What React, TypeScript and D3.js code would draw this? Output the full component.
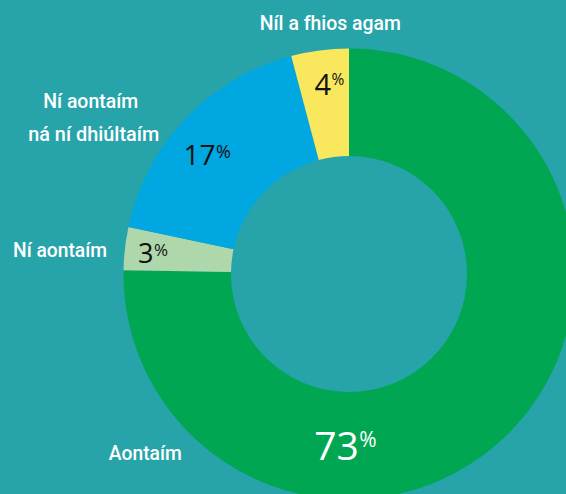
import React from "react";
import * as d3 from "d3";

const categories = ["Aontaím", "Ní aontaím", "Ní aontaím ná ní dhiúltaím", "Níl a fhios agam"];
const values = [73, 3, 17, 4];
const colors = ["#00a651", "#aed8ab", "#00a7e1", "#f9e85e"];
const percentColors = ["#ffffff", "#111111", "#111111", "#111111"];

const W = 566;
const H = 494;
const cx = 349;
const cy = 274;
const outerR = 225.5;
const innerR = 118;

// layout for value labels (polar position from centre)
const valueLabelAngleDeg = [181.2, 276.1, 310, 354.1];
const valueLabelRadius = [172, 197, 185, 190.5];
const valueFontSize = [39, 27, 28, 29];
const pctFontSize = [21, 17, 18, 15.5];

// category label layout
const catLabelLayout = [
  { lines: ["Aontaím"], x: 145.3, y: 460, widths: [73] },
  { lines: ["Ní aontaím"], x: 60, y: 256.7, widths: [94] },
  { lines: ["Ní aontaím", "ná ní dhiúltaím"], x: 92, y: 108, widths: [95, 131], dxs: [-1.3, 1.7] },
  { lines: ["Níl a fhios agam"], x: 330.3, y: 30, widths: [141] },
];

export default function App() {
  const pie = d3.pie<number>().sort(null).value((d) => d);
  const arcs = pie(values);
  const arc = d3.arc<d3.PieArcDatum<number>>().innerRadius(innerR).outerRadius(outerR);

  const labelFont = "Roboto, 'DejaVu Sans', sans-serif";
  const numFont = "'Open Sans', 'Noto Sans', sans-serif";

  return (
    <svg
      width={W}
      height={H}
      style={{ position: "absolute", left: 0, top: 0, display: "block" }}
    >
      <rect x={0} y={0} width={W} height={H} fill="#27a4aa" />
      <g transform={`translate(${cx},${cy})`}>
        {arcs.map((a, i) => (
          <path key={i} d={arc(a) || ""} fill={colors[i]} />
        ))}
        {arcs.map((a, i) => {
          const ang = (valueLabelAngleDeg[i] * Math.PI) / 180;
          const r = valueLabelRadius[i];
          const x = Math.sin(ang) * r;
          const y = -Math.cos(ang) * r;
          const fs = valueFontSize[i];
          const pfs = pctFontSize[i];
          return (
            <text
              key={i}
              x={x}
              y={y + fs * 0.357}
              textAnchor="middle"
              fill={percentColors[i]}
              fontFamily={numFont}
              fontSize={fs}
            >
              {String(values[i])}
              <tspan fontSize={pfs} dx={0.5} dy={-(0.714 * fs - 0.714 * pfs)}>
                %
              </tspan>
            </text>
          );
        })}
      </g>
      {catLabelLayout.map((c, i) =>
        c.lines.map((ln, j) => (
          <text
            key={`${i}-${j}`}
            x={c.x + (c.dxs ? c.dxs[j] : 0)}
            y={c.y + j * 32.7}
            textAnchor="middle"
            fill="#ffffff"
            fontFamily={labelFont}
            fontWeight={500}
            fontSize={21}
            textLength={c.widths[j]}
            lengthAdjust="spacingAndGlyphs"
          >
            {ln}
          </text>
        ))
      )}
    </svg>
  );
}
